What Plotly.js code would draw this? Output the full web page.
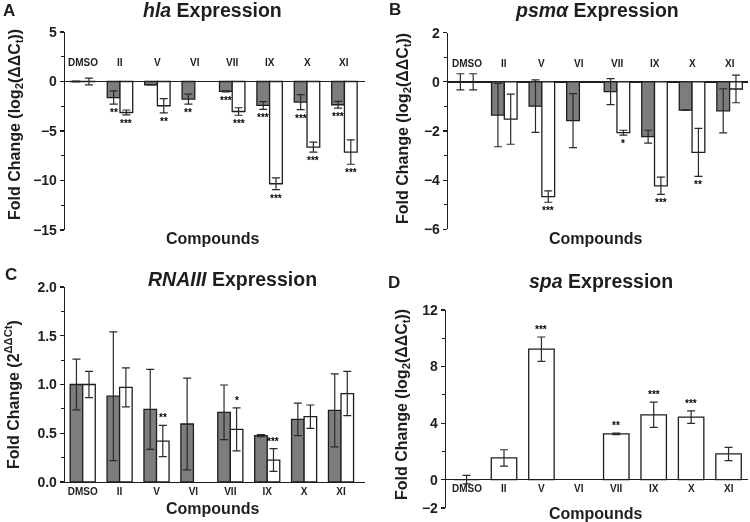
<!DOCTYPE html>
<html>
<head>
<meta charset="utf-8">
<script src="https://cdn.plot.ly/plotly-3.0.1.min.js"></script>
<style>
html,body{margin:0;padding:0;background:#fff;}
#chart{width:750px;height:522px;}
#chart svg{will-change:transform;}
#chart text{-webkit-font-smoothing:antialiased;}
</style>
</head>
<body>
<div id="chart"></div>
<script>
// ---------- data ----------
const categories = ['DMSO', 'II', 'V', 'VI', 'VII', 'IX', 'X', 'XI'];

// Panel A: hla expression, log2(ΔΔCt)
const hlaGrey      = [0, -1.62, -0.33, -1.78, -1.0, -2.42, -2.08, -2.35];
const hlaGreyErr   = [0.05, 0.67, 0.02, 0.5, 0.05, 0.39, 0.76, 0.34];
const hlaWhite     = [0, -3.13, -2.45, null, -3.03, -10.33, -6.63, -7.13];
const hlaWhiteErr  = [0.34, 0.25, 0.72, null, 0.38, 0.59, 0.5, 1.23];
const hlaGreyStars  = ['', '**', '', '**', '***', '***', '***', '***'];
const hlaWhiteStars = ['', '***', '**', '', '***', '***', '***', '***'];

// Panel B: psmα expression, log2(ΔΔCt)
const psmGrey      = [0, -1.35, -0.99, -1.58, -0.4, -2.23, -1.15, -1.18];
const psmGreyErr   = [0.33, 1.29, 1.07, 1.1, 0.53, 0.26, 0.01, 0.9];
const psmWhite     = [0, -1.52, -4.67, null, -2.07, -4.23, -2.87, -0.29];
const psmWhiteErr  = [0.33, 1.02, 0.23, null, 0.1, 0.35, 0.98, 0.56];
const psmGreyStars  = ['', '', '', '', '', '', '', ''];
const psmWhiteStars = ['', '', '***', '', '*', '***', '**', ''];

// Panel C: RNAIII expression, 2^ΔΔCt
const rnaGrey      = [1.0, 0.88, 0.745, 0.595, 0.715, 0.475, 0.643, 0.735];
const rnaGreyErr   = [0.26, 0.66, 0.41, 0.47, 0.28, 0.01, 0.167, 0.375];
const rnaWhite     = [1.0, 0.97, 0.42, null, 0.54, 0.225, 0.67, 0.907];
const rnaWhiteErr  = [0.135, 0.2, 0.16, null, 0.22, 0.117, 0.12, 0.227];
const rnaGreyStars  = ['', '', '', '', '', '', '', ''];
const rnaWhiteStars = ['', '', '**', '', '*', '***', '', ''];

// Panel D: spa expression, log2(ΔΔCt)
const spaWhite     = [0, 1.54, 9.23, null, 3.24, 4.59, 4.43, 1.82];
const spaWhiteErr  = [0.3, 0.58, 0.86, null, 0.05, 0.89, 0.44, 0.47];
const spaWhiteStars = ['', '', '***', '', '**', '***', '***', ''];

// ---------- styles ----------
const FONT = 'Liberation Sans, Arial, Helvetica, sans-serif';
const INK = '#1e1e1e';
const GREY = '#7d7d7d';
const BARGAP = 0.32;
const errStyle = {type: 'data', visible: true, color: '#2a2a2a', thickness: 1.2, width: 4};

function barTrace(y, err, fill, xa, ya, name) {
  return {
    type: 'bar', x: categories, y: y, name: name,
    xaxis: xa, yaxis: ya,
    marker: {color: fill, line: {color: INK, width: 1.3}},
    error_y: Object.assign({array: err}, errStyle),
    hoverinfo: 'skip'
  };
}

const traces = [
  barTrace(hlaGrey, hlaGreyErr, GREY, 'x', 'y', 'grey'),
  barTrace(hlaWhite, hlaWhiteErr, '#ffffff', 'x', 'y', 'white'),
  barTrace(psmGrey, psmGreyErr, GREY, 'x2', 'y2', 'grey'),
  barTrace(psmWhite, psmWhiteErr, '#ffffff', 'x2', 'y2', 'white'),
  barTrace(rnaGrey, rnaGreyErr, GREY, 'x3', 'y3', 'grey'),
  barTrace(rnaWhite, rnaWhiteErr, '#ffffff', 'x3', 'y3', 'white'),
  barTrace(spaWhite, spaWhiteErr, '#ffffff', 'x4', 'y4', 'white')
];

const annotations = [];
const halfOff = (1 - BARGAP) / 4;

function starNotes(vals, errs, stars, offset, xr, yr, below) {
  stars.forEach((s, i) => {
    if (!s || vals[i] === null) return;
    const e = errs[i] || 0;
    annotations.push({
      xref: xr, yref: yr, x: i + offset,
      y: below ? vals[i] - e : vals[i] + e,
      yanchor: below ? 'top' : 'bottom',
      yshift: below ? -1 : 0,
      text: s, showarrow: false,
      font: {family: FONT, size: 10, color: '#000000', weight: 'bold'}
    });
  });
}
starNotes(hlaGrey, hlaGreyErr, hlaGreyStars, -halfOff, 'x', 'y', true);
starNotes(hlaWhite, hlaWhiteErr, hlaWhiteStars, halfOff, 'x', 'y', true);
starNotes(psmGrey, psmGreyErr, psmGreyStars, -halfOff, 'x2', 'y2', true);
starNotes(psmWhite, psmWhiteErr, psmWhiteStars, halfOff, 'x2', 'y2', true);
starNotes(rnaGrey, rnaGreyErr, rnaGreyStars, -halfOff, 'x3', 'y3', false);
starNotes(rnaWhite, rnaWhiteErr, rnaWhiteStars, halfOff, 'x3', 'y3', false);
starNotes(spaWhite, spaWhiteErr, spaWhiteStars, 0, 'x4', 'y4', false);

// category labels drawn inside panels A, B, D
function catLabels(xr, yr, above) {
  categories.forEach((c, i) => {
    annotations.push({
      xref: xr, yref: yr, x: i, y: 0,
      yanchor: above ? 'bottom' : 'top', yshift: above ? 11 : -1,
      text: c, showarrow: false,
      font: {family: FONT, size: 10, color: INK, weight: 'bold'}
    });
  });
}
catLabels('x', 'y', true);
catLabels('x2', 'y2', true);
catLabels('x4', 'y4', false);

function paperText(text, px, py, size, angle) {
  annotations.push({
    xref: 'paper', yref: 'paper', x: px / 750, y: 1 - py / 522,
    xanchor: 'center', yanchor: 'middle', text: text, showarrow: false,
    textangle: angle || 0,
    font: {family: FONT, size: size, color: INK, weight: 'bold'}
  });
}
// panel letters
paperText('A', 9, 10, 17);
paperText('B', 395, 9, 17);
paperText('C', 11, 274, 17);
paperText('D', 394, 282, 17);
// titles
paperText('<i>hla</i> Expression', 213, 10, 19.5);
paperText('<i>psmα</i> Expression', 597, 10, 19.5);
paperText('<i>RNAIII</i> Expression', 232, 279, 19.5);
paperText('<i>spa</i> Expression', 601, 281, 19.5);
// x titles
paperText('Compounds', 213, 238, 16);
paperText('Compounds', 595, 238, 16);
paperText('Compounds', 212, 508, 16);
paperText('Compounds', 595, 513, 16);
// y titles
const logTitle = 'Fold Change (log<sub>2</sub>(ΔΔC<sub>t</sub>))';
paperText(logTitle, 15, 125, 16, -90);
paperText(logTitle, 403, 129, 16, -90);
paperText('Fold Change (2<sup>ΔΔCt</sup>)', 12, 395, 16, -90);
paperText(logTitle, 402, 405, 16, -90);

function yAxis(domain, range, tickvals, minorDtick, anchor, zero, fmt) {
  return {
    domain: domain, range: range, anchor: anchor,
    tickmode: 'array', tickvals: tickvals,
    tickformat: fmt || '',
    showline: true, linecolor: INK, linewidth: 1.3,
    ticks: 'outside', ticklen: 4, tickwidth: 1.2, tickcolor: INK,
    minor: {ticks: 'outside', dtick: minorDtick, ticklen: 2.5, tickwidth: 1, tickcolor: INK, showgrid: false},
    showgrid: false,
    zeroline: zero, zerolinecolor: INK, zerolinewidth: 1.3,
    tickfont: {family: FONT, size: 14, color: INK, weight: 'bold'},
    fixedrange: true
  };
}
function xAxis(domain, range, anchor, showLabels) {
  return {
    domain: domain, range: range, anchor: anchor, type: 'category',
    categoryorder: 'array', categoryarray: categories,
    showline: showLabels, linecolor: INK, linewidth: 1.3,
    ticks: '', showgrid: false, zeroline: false,
    showticklabels: showLabels,
    tickfont: {family: FONT, size: 10, color: INK, weight: 'bold'},
    fixedrange: true
  };
}

const layout = {
  width: 750, height: 522,
  margin: {l: 0, r: 0, t: 0, b: 0},
  paper_bgcolor: '#ffffff', plot_bgcolor: '#ffffff',
  showlegend: false,
  barmode: 'group', bargap: BARGAP, bargroupgap: 0,
  font: {family: FONT, color: INK},
  xaxis:  xAxis([65 / 750, 365 / 750], [-0.47, 7.55], 'y', false),
  yaxis:  yAxis([1 - 230 / 522, 1 - 32 / 522], [-15, 5], [-15, -10, -5, 0, 5], 2.5, 'x', true),
  xaxis2: xAxis([448 / 750, 748 / 750], [-0.5, 7.49], 'y2', false),
  yaxis2: yAxis([1 - 229.3 / 522, 1 - 32.7 / 522], [-6, 2], [-6, -4, -2, 0, 2], 1, 'x2', true),
  xaxis3: xAxis([65 / 750, 365 / 750], [-0.48, 7.65], 'y3', true),
  yaxis3: yAxis([1 - 482 / 522, 1 - 287 / 522], [0, 2], [0, 0.5, 1, 1.5, 2], 0.25, 'x3', false, '.1f'),
  xaxis4: xAxis([446 / 750, 748 / 750], [-0.55, 7.52], 'y4', false),
  yaxis4: yAxis([1 - 508 / 522, 1 - 310 / 522], [-2, 12], [-2, 0, 4, 8, 12], 2, 'x4', true),
  annotations: annotations
};

Plotly.newPlot('chart', traces, layout, {staticPlot: true, displayModeBar: false});
</script>
</body>
</html>
